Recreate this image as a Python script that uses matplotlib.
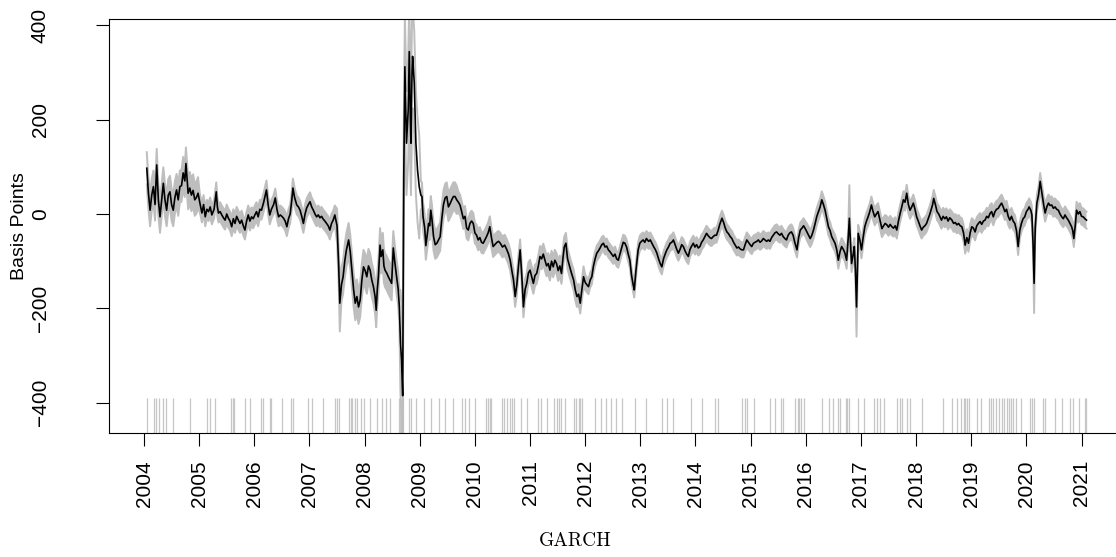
import numpy as np
import matplotlib
matplotlib.use("Agg")
import matplotlib.pyplot as plt

# Spread estimate (basis points), sampled dates in decimal years
dates = [
    2004.05, 2004.08, 2004.11, 2004.14, 2004.17, 2004.20, 2004.23, 2004.26, 2004.29, 2004.32,
    2004.35, 2004.38, 2004.41, 2004.44, 2004.47, 2004.50, 2004.53, 2004.56, 2004.59, 2004.62,
    2004.65, 2004.68, 2004.71, 2004.74, 2004.76, 2004.80, 2004.83, 2004.86, 2004.89, 2004.92,
    2004.95, 2004.98, 2005.01, 2005.05, 2005.08, 2005.11, 2005.14, 2005.17, 2005.20, 2005.23,
    2005.27, 2005.31, 2005.33, 2005.35, 2005.38, 2005.41, 2005.44, 2005.47, 2005.50, 2005.53,
    2005.56, 2005.59, 2005.62, 2005.65, 2005.68, 2005.71, 2005.74, 2005.77, 2005.80, 2005.83,
    2005.86, 2005.89, 2005.92, 2005.95, 2005.98, 2006.01, 2006.04, 2006.07, 2006.10, 2006.13,
    2006.17, 2006.22, 2006.25, 2006.28, 2006.31, 2006.35, 2006.38, 2006.41, 2006.44, 2006.47,
    2006.50, 2006.53, 2006.56, 2006.59, 2006.62, 2006.65, 2006.68, 2006.70, 2006.73, 2006.77,
    2006.80, 2006.83, 2006.86, 2006.89, 2006.92, 2006.95, 2006.98, 2007.01, 2007.04, 2007.07,
    2007.10, 2007.13, 2007.16, 2007.19, 2007.22, 2007.25, 2007.28, 2007.31, 2007.34, 2007.37,
    2007.40, 2007.43, 2007.46, 2007.50, 2007.53, 2007.55, 2007.58, 2007.61, 2007.64, 2007.67,
    2007.71, 2007.74, 2007.77, 2007.80, 2007.83, 2007.86, 2007.89, 2007.92, 2007.95, 2007.98,
    2008.01, 2008.04, 2008.07, 2008.10, 2008.13, 2008.16, 2008.19, 2008.21, 2008.23, 2008.25,
    2008.28, 2008.30, 2008.33, 2008.35, 2008.37, 2008.40, 2008.43, 2008.46, 2008.49, 2008.52,
    2008.55, 2008.58, 2008.61, 2008.63, 2008.65, 2008.67, 2008.69, 2008.71, 2008.73, 2008.75,
    2008.76, 2008.79, 2008.81, 2008.83, 2008.84, 2008.86, 2008.87, 2008.90, 2008.93, 2008.96,
    2008.99, 2009.02, 2009.04, 2009.06, 2009.09, 2009.11, 2009.14, 2009.16, 2009.18, 2009.20,
    2009.22, 2009.25, 2009.28, 2009.31, 2009.34, 2009.37, 2009.40, 2009.43, 2009.46, 2009.49,
    2009.52, 2009.55, 2009.58, 2009.61, 2009.64, 2009.67, 2009.70, 2009.73, 2009.76, 2009.79,
    2009.82, 2009.85, 2009.88, 2009.91, 2009.94, 2009.97, 2010.00, 2010.03, 2010.06, 2010.09,
    2010.12, 2010.15, 2010.18, 2010.21, 2010.24, 2010.27, 2010.30, 2010.33, 2010.36, 2010.40,
    2010.43, 2010.46, 2010.50, 2010.54, 2010.58, 2010.61, 2010.64, 2010.67, 2010.70, 2010.73,
    2010.76, 2010.79, 2010.82, 2010.85, 2010.88, 2010.91, 2010.94, 2010.97, 2011.00, 2011.03,
    2011.06, 2011.09, 2011.12, 2011.15, 2011.18, 2011.21, 2011.24, 2011.27, 2011.30, 2011.33,
    2011.36, 2011.39, 2011.42, 2011.45, 2011.48, 2011.51, 2011.54, 2011.57, 2011.60, 2011.62,
    2011.65, 2011.68, 2011.72, 2011.75, 2011.79, 2011.82, 2011.85, 2011.88, 2011.91, 2011.94,
    2011.97, 2012.00, 2012.03, 2012.06, 2012.09, 2012.12, 2012.15, 2012.18, 2012.21, 2012.24,
    2012.27, 2012.30, 2012.33, 2012.36, 2012.39, 2012.42, 2012.45, 2012.48, 2012.51, 2012.54,
    2012.57, 2012.60, 2012.63, 2012.66, 2012.69, 2012.72, 2012.75, 2012.78, 2012.81, 2012.84,
    2012.87, 2012.89, 2012.92, 2012.96, 2012.99, 2013.02, 2013.05, 2013.08, 2013.11, 2013.15,
    2013.18, 2013.21, 2013.24, 2013.27, 2013.30, 2013.33, 2013.36, 2013.39, 2013.42, 2013.45,
    2013.48, 2013.51, 2013.54, 2013.57, 2013.60, 2013.63, 2013.66, 2013.69, 2013.72, 2013.75,
    2013.78, 2013.81, 2013.84, 2013.87, 2013.90, 2013.93, 2013.96, 2013.99, 2014.02, 2014.05,
    2014.08, 2014.11, 2014.14, 2014.17, 2014.20, 2014.23, 2014.26, 2014.29, 2014.32, 2014.35,
    2014.38, 2014.41, 2014.44, 2014.48, 2014.51, 2014.54, 2014.57, 2014.60, 2014.63, 2014.66,
    2014.69, 2014.72, 2014.75, 2014.78, 2014.81, 2014.84, 2014.87, 2014.90, 2014.93, 2014.96,
    2014.99, 2015.02, 2015.05, 2015.08, 2015.11, 2015.14, 2015.17, 2015.20, 2015.23, 2015.26,
    2015.29, 2015.32, 2015.35, 2015.38, 2015.41, 2015.44, 2015.47, 2015.50, 2015.53, 2015.56,
    2015.59, 2015.62, 2015.65, 2015.68, 2015.71, 2015.74, 2015.77, 2015.80, 2015.84, 2015.87,
    2015.90, 2015.93, 2015.96, 2015.99, 2016.02, 2016.05, 2016.08, 2016.11, 2016.14, 2016.17,
    2016.20, 2016.23, 2016.26, 2016.29, 2016.32, 2016.35, 2016.38, 2016.41, 2016.44, 2016.47,
    2016.50, 2016.53, 2016.56, 2016.59, 2016.62, 2016.65, 2016.68, 2016.71, 2016.74, 2016.77,
    2016.79, 2016.81, 2016.83, 2016.86, 2016.88, 2016.90, 2016.92, 2016.94, 2016.95, 2016.98,
    2017.01, 2017.04, 2017.07, 2017.10, 2017.13, 2017.16, 2017.19, 2017.22, 2017.25, 2017.28,
    2017.31, 2017.34, 2017.38, 2017.41, 2017.44, 2017.47, 2017.50, 2017.53, 2017.56, 2017.59,
    2017.62, 2017.65, 2017.68, 2017.71, 2017.74, 2017.77, 2017.80, 2017.83, 2017.86, 2017.89,
    2017.92, 2017.95, 2017.98, 2018.01, 2018.04, 2018.07, 2018.10, 2018.13, 2018.16, 2018.19,
    2018.22, 2018.25, 2018.27, 2018.30, 2018.32, 2018.35, 2018.38, 2018.41, 2018.44, 2018.46,
    2018.49, 2018.52, 2018.55, 2018.58, 2018.61, 2018.65, 2018.68, 2018.71, 2018.74, 2018.77,
    2018.80, 2018.83, 2018.86, 2018.89, 2018.92, 2018.95, 2018.98, 2019.01, 2019.04, 2019.07,
    2019.10, 2019.13, 2019.16, 2019.19, 2019.22, 2019.25, 2019.28, 2019.31, 2019.34, 2019.37,
    2019.40, 2019.43, 2019.46, 2019.49, 2019.52, 2019.55, 2019.58, 2019.61, 2019.64, 2019.67,
    2019.70, 2019.73, 2019.76, 2019.79, 2019.82, 2019.85, 2019.88, 2019.91, 2019.94, 2019.97,
    2020.00, 2020.03, 2020.05, 2020.08, 2020.10, 2020.12, 2020.14, 2020.16, 2020.19, 2020.22,
    2020.25, 2020.28, 2020.30, 2020.32, 2020.34, 2020.37, 2020.40, 2020.43, 2020.46, 2020.49,
    2020.52, 2020.55, 2020.58, 2020.61, 2020.64, 2020.67, 2020.70, 2020.73, 2020.76, 2020.79,
    2020.82, 2020.84, 2020.86, 2020.89, 2020.91, 2020.94, 2020.97, 2021.00, 2021.03, 2021.06,
    2021.09,
]

spread_bp = [
    97, 44, 8, 40, 58, 20, 104, 30, -6, 30,
    65, 30, 8, 40, 47, 20, 8, 35, 51, 30,
    58, 60, 87, 70, 107, 44, 55, 40, 50, 30,
    35, 44, 25, 2, 20, -6, 10, 5, 15, -2,
    10, 47, 15, 2, 5, -2, -8, -13, 0, -9,
    -15, -27, -10, -20, -5, -13, -20, -13, -25, -34,
    -15, -2, -15, -6, -10, -2, 5, -6, 10, 8,
    25, 51, 20, -2, 10, 20, 34, 10, -6, -2,
    -5, -9, -15, -27, -10, 0, 30, 55, 35, 19,
    15, 8, -5, -20, 0, 13, 20, 26, 15, 8,
    0, -6, -2, -8, -5, -11, -15, -20, -25, -34,
    -20, -13, -2, -25, -110, -189, -150, -133, -100, -76,
    -55, -80, -119, -160, -189, -175, -197, -182, -140, -112,
    -120, -133, -110, -119, -140, -154, -175, -204, -160, -133,
    -66, -90, -76, -110, -119, -125, -133, -140, -147, -72,
    -104, -133, -160, -197, -271, -310, -385, 79, 312, 200,
    150, 220, 344, 200, 150, 300, 334, 278, 150, 93,
    58, 40, 37, -6, -30, -67, -40, -20, -25, 8,
    -10, -48, -65, -62, -55, -48, -10, 20, 34, 37,
    15, 22, 30, 37, 37, 30, 25, 19, 5, -10,
    -5, -30, -34, -20, -15, -20, -40, -45, -55, -50,
    -60, -62, -55, -48, -40, -27, -50, -69, -65, -60,
    -58, -62, -70, -66, -76, -85, -98, -120, -140, -175,
    -150, -110, -76, -130, -197, -160, -147, -125, -119, -133,
    -147, -130, -126, -110, -90, -95, -85, -98, -110, -105,
    -119, -100, -112, -98, -105, -120, -110, -126, -90, -70,
    -62, -95, -112, -125, -140, -161, -175, -170, -189, -160,
    -133, -145, -150, -154, -140, -133, -110, -95, -83, -78,
    -72, -65, -62, -70, -68, -76, -80, -85, -90, -85,
    -95, -98, -85, -72, -60, -62, -70, -85, -98, -130,
    -150, -161, -120, -76, -62, -58, -55, -60, -52, -58,
    -55, -62, -69, -75, -83, -95, -105, -112, -95, -85,
    -76, -70, -62, -60, -55, -65, -75, -83, -75, -65,
    -69, -78, -85, -90, -75, -68, -62, -70, -65, -72,
    -69, -60, -55, -48, -41, -46, -50, -52, -48, -45,
    -45, -35, -22, -9, -18, -30, -38, -42, -48, -52,
    -60, -66, -72, -70, -74, -76, -76, -65, -55, -60,
    -65, -69, -62, -60, -58, -55, -60, -57, -52, -55,
    -58, -55, -58, -50, -45, -40, -38, -42, -45, -41,
    -48, -52, -55, -45, -40, -38, -45, -60, -76, -50,
    -34, -30, -25, -31, -38, -45, -52, -45, -34, -20,
    -5, 5, 15, 30, 20, 8, -10, -27, -35, -48,
    -55, -62, -75, -98, -80, -69, -75, -83, -98, -50,
    -9, -60, -105, -85, -69, -120, -197, -100, -41, -55,
    -76, -50, -27, -15, -6, 5, 19, 5, -6, 0,
    5, -10, -31, -25, -20, -23, -28, -22, -27, -30,
    -25, -34, -15, 1, 15, 30, 25, 44, 20, 8,
    15, 23, 10, -6, -15, -25, -34, -28, -25, -20,
    -10, 0, 8, 20, 33, 20, 5, 0, -8, -13,
    -5, -10, -6, -15, -8, -13, -20, -18, -23, -20,
    -25, -27, -40, -66, -50, -62, -40, -27, -30, -38,
    -25, -20, -16, -22, -15, -13, -5, -8, 1, 5,
    -6, 5, 10, 12, 18, 23, 15, 5, 10, -5,
    -13, -5, -15, -20, -35, -69, -35, -20, -10, -6,
    5, 10, 15, 8, -2, -60, -147, -30, 23, 40,
    69, 45, 30, 15, 2, 15, 23, 18, 19, 12,
    15, 10, 8, 0, -6, -10, -2, -8, -13, -20,
    -27, -35, -52, -20, 8, 0, 5, -5, -6, -10,
    -13,
]

# Half-width of the grey band by volatility regime (regime start dates)
regime_start = [2004.0, 2005.0, 2007.5, 2008.64, 2009.0, 2009.7, 2012.0, 2016.0]
regime_half = [34, 20, 36, 110, 30, 22, 16, 18]

# Dates where the band is wider than its regime
spike_dates = [2007.55, 2016.79, 2016.92, 2020.14]
spike_half = [60, 70, 63, 63]

# Flagged dates shown as a rug at the bottom
rug_dates = [
    2004.06, 2004.18, 2004.22, 2004.27, 2004.35, 2004.40, 2004.52, 2004.83, 2005.15, 2005.20,
    2005.29, 2005.58, 2005.61, 2005.63, 2005.84, 2005.93, 2006.12, 2006.15, 2006.28, 2006.31,
    2006.51, 2006.66, 2006.70, 2006.97, 2007.05, 2007.24, 2007.47, 2007.50, 2007.53, 2007.71,
    2007.75, 2007.78, 2007.83, 2007.87, 2007.93, 2007.98, 2008.09, 2008.22, 2008.32, 2008.39,
    2008.46, 2008.63, 2008.65, 2008.69, 2008.80, 2008.84, 2008.93, 2009.08, 2009.21, 2009.34,
    2009.45, 2009.61, 2009.76, 2009.82, 2009.89, 2010.00, 2010.20, 2010.23, 2010.27, 2010.30,
    2010.50, 2010.53, 2010.58, 2010.63, 2010.68, 2010.71, 2010.84, 2010.94, 2011.15, 2011.19,
    2011.31, 2011.43, 2011.48, 2011.52, 2011.57, 2011.63, 2011.79, 2011.83, 2011.88, 2011.91,
    2011.95, 2012.18, 2012.29, 2012.37, 2012.47, 2012.56, 2012.66, 2012.90, 2013.11, 2013.39,
    2013.48, 2013.59, 2013.92, 2014.11, 2014.35, 2014.40, 2014.84, 2014.89, 2014.93, 2015.06,
    2015.35, 2015.45, 2015.55, 2015.58, 2015.80, 2015.85, 2015.88, 2015.92, 2015.97, 2016.29,
    2016.42, 2016.50, 2016.58, 2016.62, 2016.72, 2016.75, 2016.79, 2016.95, 2017.06, 2017.24,
    2017.29, 2017.35, 2017.42, 2017.65, 2017.70, 2017.74, 2017.84, 2017.89, 2018.11, 2018.49,
    2018.66, 2018.75, 2018.81, 2018.86, 2018.89, 2018.93, 2018.96, 2019.10, 2019.17, 2019.32,
    2019.35, 2019.40, 2019.45, 2019.50, 2019.55, 2019.59, 2019.64, 2019.69, 2019.73, 2019.76,
    2019.82, 2019.91, 2020.07, 2020.10, 2020.13, 2020.31, 2020.34, 2020.51, 2020.65, 2020.79,
    2020.85, 2020.95, 2021.06, 2021.09,
]

year_ticks = list(range(2004, 2022))
y_ticks = [-400, -200, 0, 200, 400]
y_tick_labels = ["\u2212400", "\u2212200", "0", "200", "400"]

t = np.array(dates)
y = np.array(spread_bp, dtype=float)
half = np.array(regime_half, dtype=float)[np.searchsorted(regime_start, t, side="right") - 1]
for d, h in zip(spike_dates, spike_half):
    half[np.argmin(np.abs(t - d))] = h
upper = y + half
lower = y - half
# shade between the bounds except in the crisis window, where the bounds stay as lines
calm = half < 100

W, H = 1116, 557
fig = plt.figure(figsize=(W / 100, H / 100), dpi=100)
ax = fig.add_axes([109 / W, 124 / H, 1015 / W, 414 / H])

grey = "#bebebe"
ax.vlines(rug_dates, -390, -480, color="#c6c6c6", lw=0.9, zorder=1)
ax.fill_between(t, lower, upper, where=calm, color=grey, lw=0, zorder=2)
ax.plot(t, upper, color=grey, lw=1.4, zorder=2)
ax.plot(t, lower, color=grey, lw=1.4, zorder=2)
ax.plot(t, y, color="black", lw=1.2, zorder=3)

ax.set_xlim(2003.365, 2021.77)
ax.set_ylim(-464.1, 413.2)

ax.set_xticks(year_ticks)
ax.set_xticklabels([str(v) for v in year_ticks])
ax.set_yticks(y_ticks)
ax.set_yticklabels(y_tick_labels)

font = "Liberation Sans"
ax.tick_params(axis="both", direction="out", length=9.5, width=0.8, color="black")
ax.tick_params(axis="x", labelrotation=90, pad=10, labelsize=15)
ax.tick_params(axis="y", labelrotation=90, pad=33, labelsize=15)
for lab in ax.get_xticklabels() + ax.get_yticklabels():
    lab.set_fontfamily(font)
for lab in ax.get_yticklabels():
    lab.set_verticalalignment("center")

for side in ["top", "bottom", "left", "right"]:
    ax.spines[side].set_linewidth(0.8)
    ax.spines[side].set_color("black")

fig.text(20 / W, 1 - 226 / H, "Basis Points", rotation=90, ha="center", va="center",
         fontsize=14, family=font)
fig.text(575 / W, 1 - 541 / H, "GARCH", ha="center", va="center",
         fontsize=14, family="cmr10")

fig.savefig("out.png", dpi=100)
